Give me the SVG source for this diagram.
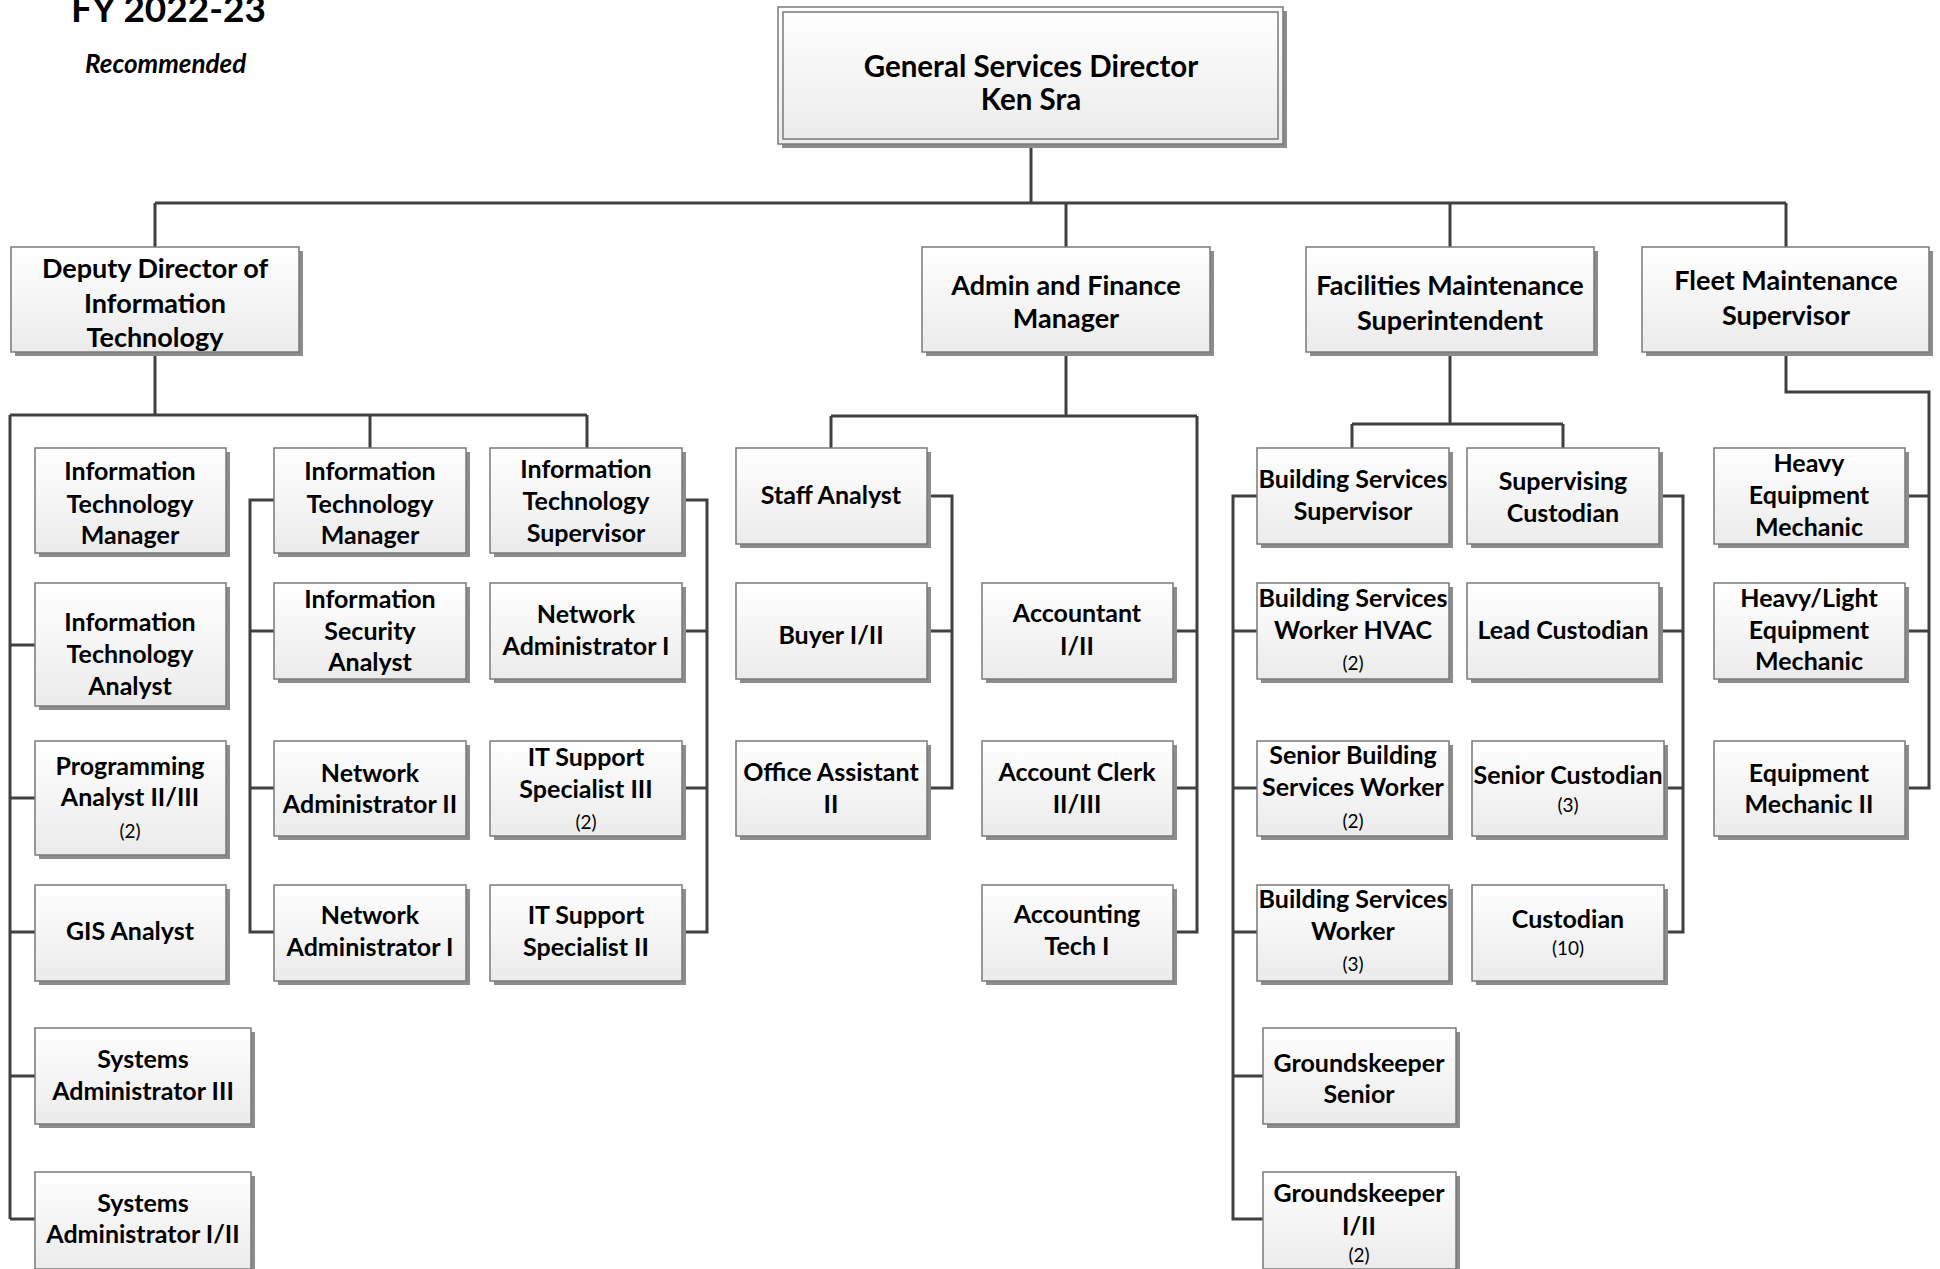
<svg xmlns="http://www.w3.org/2000/svg" width="1940" height="1269" viewBox="0 0 1940 1269">
<style>
.sh{fill:#8c8c8c}
.bx{fill:url(#g);stroke:#7a7a7a;stroke-width:1.5}
.in{fill:none;stroke:#7a7a7a;stroke-width:1.5}
text{font-family:Lato,"Liberation Sans",sans-serif;fill:#000;text-anchor:middle}
.t0{font-size:29.5px;font-weight:bold}
.t1{font-size:27px;font-weight:bold}
.t2{font-size:25px;font-weight:bold}
.c{font-size:19px;font-weight:normal}
.ttl{font-size:37px;font-weight:bold;text-anchor:start}
.rec{font-size:26px;font-weight:bold;font-style:italic;text-anchor:start}
#conn path{fill:none;stroke:#404040;stroke-width:3}
</style>
<defs>
<linearGradient id="g" x1="0" y1="0" x2="0" y2="1">
<stop offset="0" stop-color="#ffffff"/>
<stop offset="1" stop-color="#ebebeb"/>
</linearGradient>
</defs>
<rect width="1940" height="1269" fill="#fff"/>
<text class="ttl" x="71" y="22">FY 2022-23</text>
<text class="rec" x="85" y="73">Recommended</text>

<g id="conn">
<path d="M1031,145V203M155,203H1786M155,203V247M1066,203V247M1450,203V247M1786,203V247"/>
<path d="M155,352V415M10,415H587M370,415V448M587,415V448M10,415V1219M10,645H35M10,798H35M10,932H35M10,1076H35M10,1219H35"/>
<path d="M274,500H250V932H274M250,631H274M250,788H274"/>
<path d="M682,500H707V932H682M682,631H707M682,788H707"/>
<path d="M1066,352V416M831,416H1197M831,416V448M1197,416V932H1173M1173,631H1197M1173,788H1197"/>
<path d="M927,496H952V788H927M927,631H952"/>
<path d="M1450,352V424M1352,424H1563M1352,424V448M1563,424V448"/>
<path d="M1257,496H1233V1219H1263M1233,631H1257M1233,788H1257M1233,932H1257M1233,1076H1263"/>
<path d="M1659,496H1683V932H1664M1659,631H1683M1664,788H1683"/>
<path d="M1786,352V392H1929V788H1905M1905,496H1929M1905,631H1929"/>
</g>

<g id="n-director">
<rect class="sh" x="782" y="11" width="505" height="137"/>
<rect class="bx" x="778" y="7" width="505" height="137"/>
<rect class="in" x="783" y="12" width="495" height="127"/>
<text class="t0" x="1031" y="77">General Services Director</text>
<text class="t0" x="1031" y="110">Ken Sra</text>
</g>

<g id="n-deputy">
<rect class="sh" x="15" y="251" width="288" height="105"/>
<rect class="bx" x="11" y="247" width="288" height="105"/>
<text class="t1" x="155" y="278">Deputy Director of</text>
<text class="t1" x="155" y="313">Information</text>
<text class="t1" x="155" y="347">Technology</text>
</g>
<g id="n-admin">
<rect class="sh" x="926" y="251" width="288" height="105"/>
<rect class="bx" x="922" y="247" width="288" height="105"/>
<text class="t1" x="1066" y="295">Admin and Finance</text>
<text class="t1" x="1066" y="328">Manager</text>
</g>
<g id="n-facilities">
<rect class="sh" x="1310" y="251" width="288" height="105"/>
<rect class="bx" x="1306" y="247" width="288" height="105"/>
<text class="t1" x="1450" y="295">Facilities Maintenance</text>
<text class="t1" x="1450" y="330">Superintendent</text>
</g>
<g id="n-fleet">
<rect class="sh" x="1646" y="251" width="287" height="105"/>
<rect class="bx" x="1642" y="247" width="287" height="105"/>
<text class="t1" x="1786" y="290">Fleet Maintenance</text>
<text class="t1" x="1786" y="325">Supervisor</text>
</g>

<g id="n-itm1">
<rect class="sh" x="39" y="452" width="191" height="105"/>
<rect class="bx" x="35" y="448" width="191" height="105"/>
<text class="t2" x="130" y="480">Information</text>
<text class="t2" x="130" y="513">Technology</text>
<text class="t2" x="130" y="544">Manager</text>
</g>
<g id="n-ita">
<rect class="sh" x="39" y="587" width="191" height="123"/>
<rect class="bx" x="35" y="583" width="191" height="123"/>
<text class="t2" x="130" y="631">Information</text>
<text class="t2" x="130" y="663">Technology</text>
<text class="t2" x="130" y="695">Analyst</text>
</g>
<g id="n-prog">
<rect class="sh" x="39" y="745" width="191" height="114"/>
<rect class="bx" x="35" y="741" width="191" height="114"/>
<text class="t2" x="130" y="775">Programming</text>
<text class="t2" x="130" y="806">Analyst II/III</text>
<text class="c" x="130" y="838">(2)</text>
</g>
<g id="n-gis">
<rect class="sh" x="39" y="889" width="191" height="96"/>
<rect class="bx" x="35" y="885" width="191" height="96"/>
<text class="t2" x="130" y="940">GIS Analyst</text>
</g>
<g id="n-sys3">
<rect class="sh" x="39" y="1032" width="216" height="96"/>
<rect class="bx" x="35" y="1028" width="216" height="96"/>
<text class="t2" x="143" y="1068">Systems</text>
<text class="t2" x="143" y="1100">Administrator III</text>
</g>
<g id="n-sys12">
<rect class="sh" x="39" y="1176" width="216" height="97"/>
<rect class="bx" x="35" y="1172" width="216" height="97"/>
<text class="t2" x="143" y="1212">Systems</text>
<text class="t2" x="143" y="1243">Administrator I/II</text>
</g>

<g id="n-itm2">
<rect class="sh" x="278" y="452" width="192" height="105"/>
<rect class="bx" x="274" y="448" width="192" height="105"/>
<text class="t2" x="370" y="480">Information</text>
<text class="t2" x="370" y="513">Technology</text>
<text class="t2" x="370" y="544">Manager</text>
</g>
<g id="n-infosec">
<rect class="sh" x="278" y="587" width="192" height="96"/>
<rect class="bx" x="274" y="583" width="192" height="96"/>
<text class="t2" x="370" y="608">Information</text>
<text class="t2" x="370" y="640">Security</text>
<text class="t2" x="370" y="671">Analyst</text>
</g>
<g id="n-na2">
<rect class="sh" x="278" y="745" width="192" height="95"/>
<rect class="bx" x="274" y="741" width="192" height="95"/>
<text class="t2" x="370" y="782">Network</text>
<text class="t2" x="370" y="813">Administrator II</text>
</g>
<g id="n-na1a">
<rect class="sh" x="278" y="889" width="192" height="96"/>
<rect class="bx" x="274" y="885" width="192" height="96"/>
<text class="t2" x="370" y="924">Network</text>
<text class="t2" x="370" y="956">Administrator I</text>
</g>

<g id="n-itsup">
<rect class="sh" x="494" y="452" width="192" height="105"/>
<rect class="bx" x="490" y="448" width="192" height="105"/>
<text class="t2" x="586" y="478">Information</text>
<text class="t2" x="586" y="510">Technology</text>
<text class="t2" x="586" y="542">Supervisor</text>
</g>
<g id="n-na1b">
<rect class="sh" x="494" y="587" width="192" height="96"/>
<rect class="bx" x="490" y="583" width="192" height="96"/>
<text class="t2" x="586" y="623">Network</text>
<text class="t2" x="586" y="655">Administrator I</text>
</g>
<g id="n-its3">
<rect class="sh" x="494" y="745" width="192" height="95"/>
<rect class="bx" x="490" y="741" width="192" height="95"/>
<text class="t2" x="586" y="766">IT Support</text>
<text class="t2" x="586" y="798">Specialist III</text>
<text class="c" x="586" y="829">(2)</text>
</g>
<g id="n-its2">
<rect class="sh" x="494" y="889" width="192" height="96"/>
<rect class="bx" x="490" y="885" width="192" height="96"/>
<text class="t2" x="586" y="924">IT Support</text>
<text class="t2" x="586" y="956">Specialist II</text>
</g>

<g id="n-staff">
<rect class="sh" x="740" y="452" width="191" height="96"/>
<rect class="bx" x="736" y="448" width="191" height="96"/>
<text class="t2" x="831" y="504">Staff Analyst</text>
</g>
<g id="n-buyer">
<rect class="sh" x="740" y="587" width="191" height="96"/>
<rect class="bx" x="736" y="583" width="191" height="96"/>
<text class="t2" x="831" y="644">Buyer I/II</text>
</g>
<g id="n-office">
<rect class="sh" x="740" y="745" width="191" height="95"/>
<rect class="bx" x="736" y="741" width="191" height="95"/>
<text class="t2" x="831" y="781">Office Assistant</text>
<text class="t2" x="831" y="813">II</text>
</g>
<g id="n-accountant">
<rect class="sh" x="986" y="587" width="191" height="96"/>
<rect class="bx" x="982" y="583" width="191" height="96"/>
<text class="t2" x="1077" y="622">Accountant</text>
<text class="t2" x="1077" y="655">I/II</text>
</g>
<g id="n-clerk">
<rect class="sh" x="986" y="745" width="191" height="95"/>
<rect class="bx" x="982" y="741" width="191" height="95"/>
<text class="t2" x="1077" y="781">Account Clerk</text>
<text class="t2" x="1077" y="813">II/III</text>
</g>
<g id="n-acctech">
<rect class="sh" x="986" y="889" width="191" height="96"/>
<rect class="bx" x="982" y="885" width="191" height="96"/>
<text class="t2" x="1077" y="923">Accounting</text>
<text class="t2" x="1077" y="955">Tech I</text>
</g>

<g id="n-bss">
<rect class="sh" x="1261" y="452" width="192" height="96"/>
<rect class="bx" x="1257" y="448" width="192" height="96"/>
<text class="t2" x="1353" y="488">Building Services</text>
<text class="t2" x="1353" y="520">Supervisor</text>
</g>
<g id="n-hvac">
<rect class="sh" x="1261" y="587" width="192" height="96"/>
<rect class="bx" x="1257" y="583" width="192" height="96"/>
<text class="t2" x="1353" y="607">Building Services</text>
<text class="t2" x="1353" y="639">Worker HVAC</text>
<text class="c" x="1353" y="670">(2)</text>
</g>
<g id="n-sbsw">
<rect class="sh" x="1261" y="745" width="192" height="95"/>
<rect class="bx" x="1257" y="741" width="192" height="95"/>
<text class="t2" x="1353" y="764">Senior Building</text>
<text class="t2" x="1353" y="796">Services Worker</text>
<text class="c" x="1353" y="828">(2)</text>
</g>
<g id="n-bsw">
<rect class="sh" x="1261" y="889" width="192" height="96"/>
<rect class="bx" x="1257" y="885" width="192" height="96"/>
<text class="t2" x="1353" y="908">Building Services</text>
<text class="t2" x="1353" y="940">Worker</text>
<text class="c" x="1353" y="971">(3)</text>
</g>
<g id="n-gks">
<rect class="sh" x="1267" y="1032" width="193" height="96"/>
<rect class="bx" x="1263" y="1028" width="193" height="96"/>
<text class="t2" x="1359" y="1072">Groundskeeper</text>
<text class="t2" x="1359" y="1103">Senior</text>
</g>
<g id="n-gk12">
<rect class="sh" x="1267" y="1176" width="193" height="97"/>
<rect class="bx" x="1263" y="1172" width="193" height="97"/>
<text class="t2" x="1359" y="1202">Groundskeeper</text>
<text class="t2" x="1359" y="1235">I/II</text>
<text class="c" x="1359" y="1262">(2)</text>
</g>

<g id="n-supcust">
<rect class="sh" x="1471" y="452" width="192" height="96"/>
<rect class="bx" x="1467" y="448" width="192" height="96"/>
<text class="t2" x="1563" y="490">Supervising</text>
<text class="t2" x="1563" y="522">Custodian</text>
</g>
<g id="n-leadcust">
<rect class="sh" x="1471" y="587" width="192" height="96"/>
<rect class="bx" x="1467" y="583" width="192" height="96"/>
<text class="t2" x="1563" y="639">Lead Custodian</text>
</g>
<g id="n-srcust">
<rect class="sh" x="1476" y="745" width="192" height="95"/>
<rect class="bx" x="1472" y="741" width="192" height="95"/>
<text class="t2" x="1568" y="784">Senior Custodian</text>
<text class="c" x="1568" y="812">(3)</text>
</g>
<g id="n-cust">
<rect class="sh" x="1476" y="889" width="192" height="96"/>
<rect class="bx" x="1472" y="885" width="192" height="96"/>
<text class="t2" x="1568" y="928">Custodian</text>
<text class="c" x="1568" y="955">(10)</text>
</g>

<g id="n-hem">
<rect class="sh" x="1718" y="452" width="191" height="96"/>
<rect class="bx" x="1714" y="448" width="191" height="96"/>
<text class="t2" x="1809" y="472">Heavy</text>
<text class="t2" x="1809" y="504">Equipment</text>
<text class="t2" x="1809" y="536">Mechanic</text>
</g>
<g id="n-hlem">
<rect class="sh" x="1718" y="587" width="191" height="96"/>
<rect class="bx" x="1714" y="583" width="191" height="96"/>
<text class="t2" x="1809" y="607">Heavy/Light</text>
<text class="t2" x="1809" y="639">Equipment</text>
<text class="t2" x="1809" y="670">Mechanic</text>
</g>
<g id="n-em2">
<rect class="sh" x="1718" y="745" width="191" height="95"/>
<rect class="bx" x="1714" y="741" width="191" height="95"/>
<text class="t2" x="1809" y="782">Equipment</text>
<text class="t2" x="1809" y="813">Mechanic II</text>
</g>
</svg>
